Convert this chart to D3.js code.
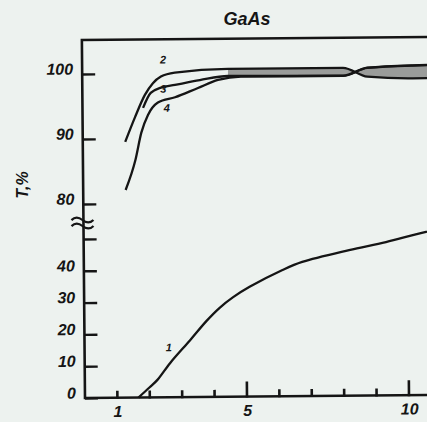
<!DOCTYPE html>
<html>
<head>
<meta charset="utf-8">
<script src="https://cdn.jsdelivr.net/npm/d3@7"></script>
<style>
  html, body { margin: 0; padding: 0; background: #edf2ef; }
  svg { display: block; }
  text { font-family: "Liberation Sans", Arial, sans-serif; font-weight: bold; font-style: italic; fill: #151515; }
</style>
</head>
<body>
<div id="chart"></div>
<script>
// wavelength-like x axis, transmission T,% (broken y axis)
const xTicks = [1, 2, 3, 4, 5, 6, 7, 8, 9, 10, 11, 12];
const xMajor = [5, 10];
const xLabels = [1, 5, 10];
const yLowTicks = [0, 10, 20, 30, 40, 50];
const yLowLabels = [0, 10, 20, 30, 40];
const yUpTicks = [80, 90, 100];

// curve 1 on the lower (0..50) part
const curve1 = [[1.65, 0], [2.0, 3.2], [2.24, 5.5], [2.64, 10.8], [3.26, 17.9], [3.78, 24.0],
  [4.18, 28.0], [4.6, 31.3], [5.11, 34.5], [6.13, 39.7], [6.74, 42.2], [8.19, 45.8],
  [9.33, 48.2], [10.57, 51.3], [12, 54]];

// curves 2, 3, 4 on the upper (80..100) part
const curve2 = [[1.31, 89.5], [1.62, 93.3], [1.93, 96.7], [2.18, 98.5], [2.43, 99.5], [2.86, 100.1],
  [4.5, 100.6], [8.05, 100.6], [8.8, 99.2], [10.2, 98.9], [12, 98.9]];
const curve3 = [[1.87, 94.7], [2.11, 97.0], [2.43, 97.8], [2.86, 98.2], [3.63, 98.9], [4.5, 99.5],
  [8.05, 99.4], [8.8, 100.6], [10.2, 100.9], [12, 101.0]];
const curve4 = [[1.31, 82.1], [1.62, 86.7], [1.81, 90.9], [2.02, 93.6], [2.33, 95.5], [2.86, 96.3],
  [3.57, 97.7], [4.19, 98.9], [4.9, 99.4], [8.05, 99.35], [8.8, 100.55], [10.2, 100.85], [12, 100.95]];

const curveLabels = [
  { t: "1", x: 2.6, y: 14.5, part: "low" },
  { t: "2", x: 2.5, y: 101.5, part: "up" },
  { t: "3", x: 2.5, y: 97.0, part: "up" },
  { t: "4", x: 2.6, y: 94.1, part: "up" }
];

const W = 427, H = 422;
const x0 = 85, yBase = 398, yTop = 40;

const svg = d3.select("#chart").append("svg")
  .attr("width", W)
  .attr("height", H);

// the scan is tilted a little
const g = svg.append("g")
  .attr("transform", "rotate(-0.5," + x0 + "," + yBase + ")");

let x = d3.scaleLinear().domain([0, 12]).range([x0, x0 + 12 * 32.4]);
let yLow = d3.scaleLinear().domain([0, 50]).range([yBase, 239]);
let yUp = d3.scaleLinear().domain([80, 100]).range([204, 74]);

const ink = "#151515";

// frame: top and left lines, bottom axis line
g.append("path")
  .attr("d", "M" + (x0 + 500) + "," + yTop + "H" + x0 + "V" + yBase + "H" + (x0 + 500))
  .attr("fill", "none")
  .attr("stroke", ink)
  .attr("stroke-width", 2.6);

// y axis lower part
const axLow = g.append("g")
  .attr("transform", "translate(" + x0 + ",0)")
  .call(d3.axisLeft(yLow).tickValues(yLowTicks)
    .tickFormat(d => yLowLabels.includes(d) ? d : "")
    .tickSizeInner(-13).tickSizeOuter(0).tickPadding(9));

// y axis upper part
const axUp = g.append("g")
  .attr("transform", "translate(" + x0 + ",0)")
  .call(d3.axisLeft(yUp).tickValues(yUpTicks)
    .tickSizeInner(-13).tickSizeOuter(0).tickPadding(9));

// x axis (labels only, ticks drawn below)
const axX = g.append("g")
  .attr("transform", "translate(0," + yBase + ")")
  .call(d3.axisBottom(x).tickValues(xTicks)
    .tickFormat(d => xLabels.includes(d) ? d : "")
    .tickSizeInner(0).tickSizeOuter(0).tickPadding(8));

[axLow, axUp, axX].forEach(ax => {
  ax.select(".domain").remove();
  ax.selectAll(".tick line").attr("stroke", ink).attr("stroke-width", 2.4);
  ax.selectAll("text")
    .attr("font-size", 16)
    .attr("font-family", null)
    .attr("fill", ink);
});
axLow.selectAll("text").attr("dy", "0em");
axUp.selectAll("text").attr("dy", "0em");

// x ticks point up into the plot
const tickPath = xTicks.map(d =>
  "M" + x(d) + "," + (yBase + 1) + "V" + (yBase - (xMajor.includes(d) ? 15 : 7))).join("");
g.append("path")
  .attr("d", tickPath)
  .attr("fill", "none")
  .attr("stroke", ink)
  .attr("stroke-width", 2.6);

// axis break symbol
const yBreak = 222;
[-3, 3].forEach(off => {
  g.append("path")
    .attr("d", "M" + (x0 - 12) + "," + (yBreak + off + 1) +
      " q5,-5 11,0 t11,0")
    .attr("fill", "none")
    .attr("stroke", ink)
    .attr("stroke-width", 2.2);
});

const lineLow = d3.line()
  .x(d => x(d[0]))
  .y(d => yLow(d[1]))
  .curve(d3.curveCatmullRom.alpha(0.5));

const lineUp = d3.line()
  .x(d => x(d[0]))
  .y(d => yUp(d[1]))
  .curve(d3.curveMonotoneX);

// grey smear between the close upper curves
const band = curve2.filter(d => d[0] >= 4.5)
  .concat(curve3.filter(d => d[0] >= 4.5).reverse());
g.append("path")
  .attr("d", d3.line().x(d => x(d[0])).y(d => yUp(d[1])).curve(d3.curveLinear)(band) + "Z")
  .attr("fill", "#9a9c9a")
  .attr("stroke", "none");

g.append("path")
  .datum(curve1)
  .attr("d", lineLow)
  .attr("fill", "none")
  .attr("stroke", ink)
  .attr("stroke-width", 2.3);

[curve2, curve3, curve4].forEach(c => {
  g.append("path")
    .datum(c)
    .attr("d", lineUp)
    .attr("fill", "none")
    .attr("stroke", ink)
    .attr("stroke-width", 2.3);
});

g.selectAll(".clabel")
  .data(curveLabels)
  .enter().append("text")
  .attr("class", "clabel")
  .attr("x", d => x(d.x))
  .attr("y", d => d.part === "low" ? yLow(d.y) : yUp(d.y))
  .attr("text-anchor", "middle")
  .attr("font-size", 11)
  .text(d => d.t);

// title
svg.append("text")
  .attr("x", 247)
  .attr("y", 25)
  .attr("text-anchor", "middle")
  .attr("font-size", 18)
  .text("GaAs");

// y axis title
svg.append("text")
  .attr("transform", "translate(28,185) rotate(-90)")
  .attr("text-anchor", "middle")
  .attr("font-size", 16)
  .text("T,%");
</script>
</body>
</html>
